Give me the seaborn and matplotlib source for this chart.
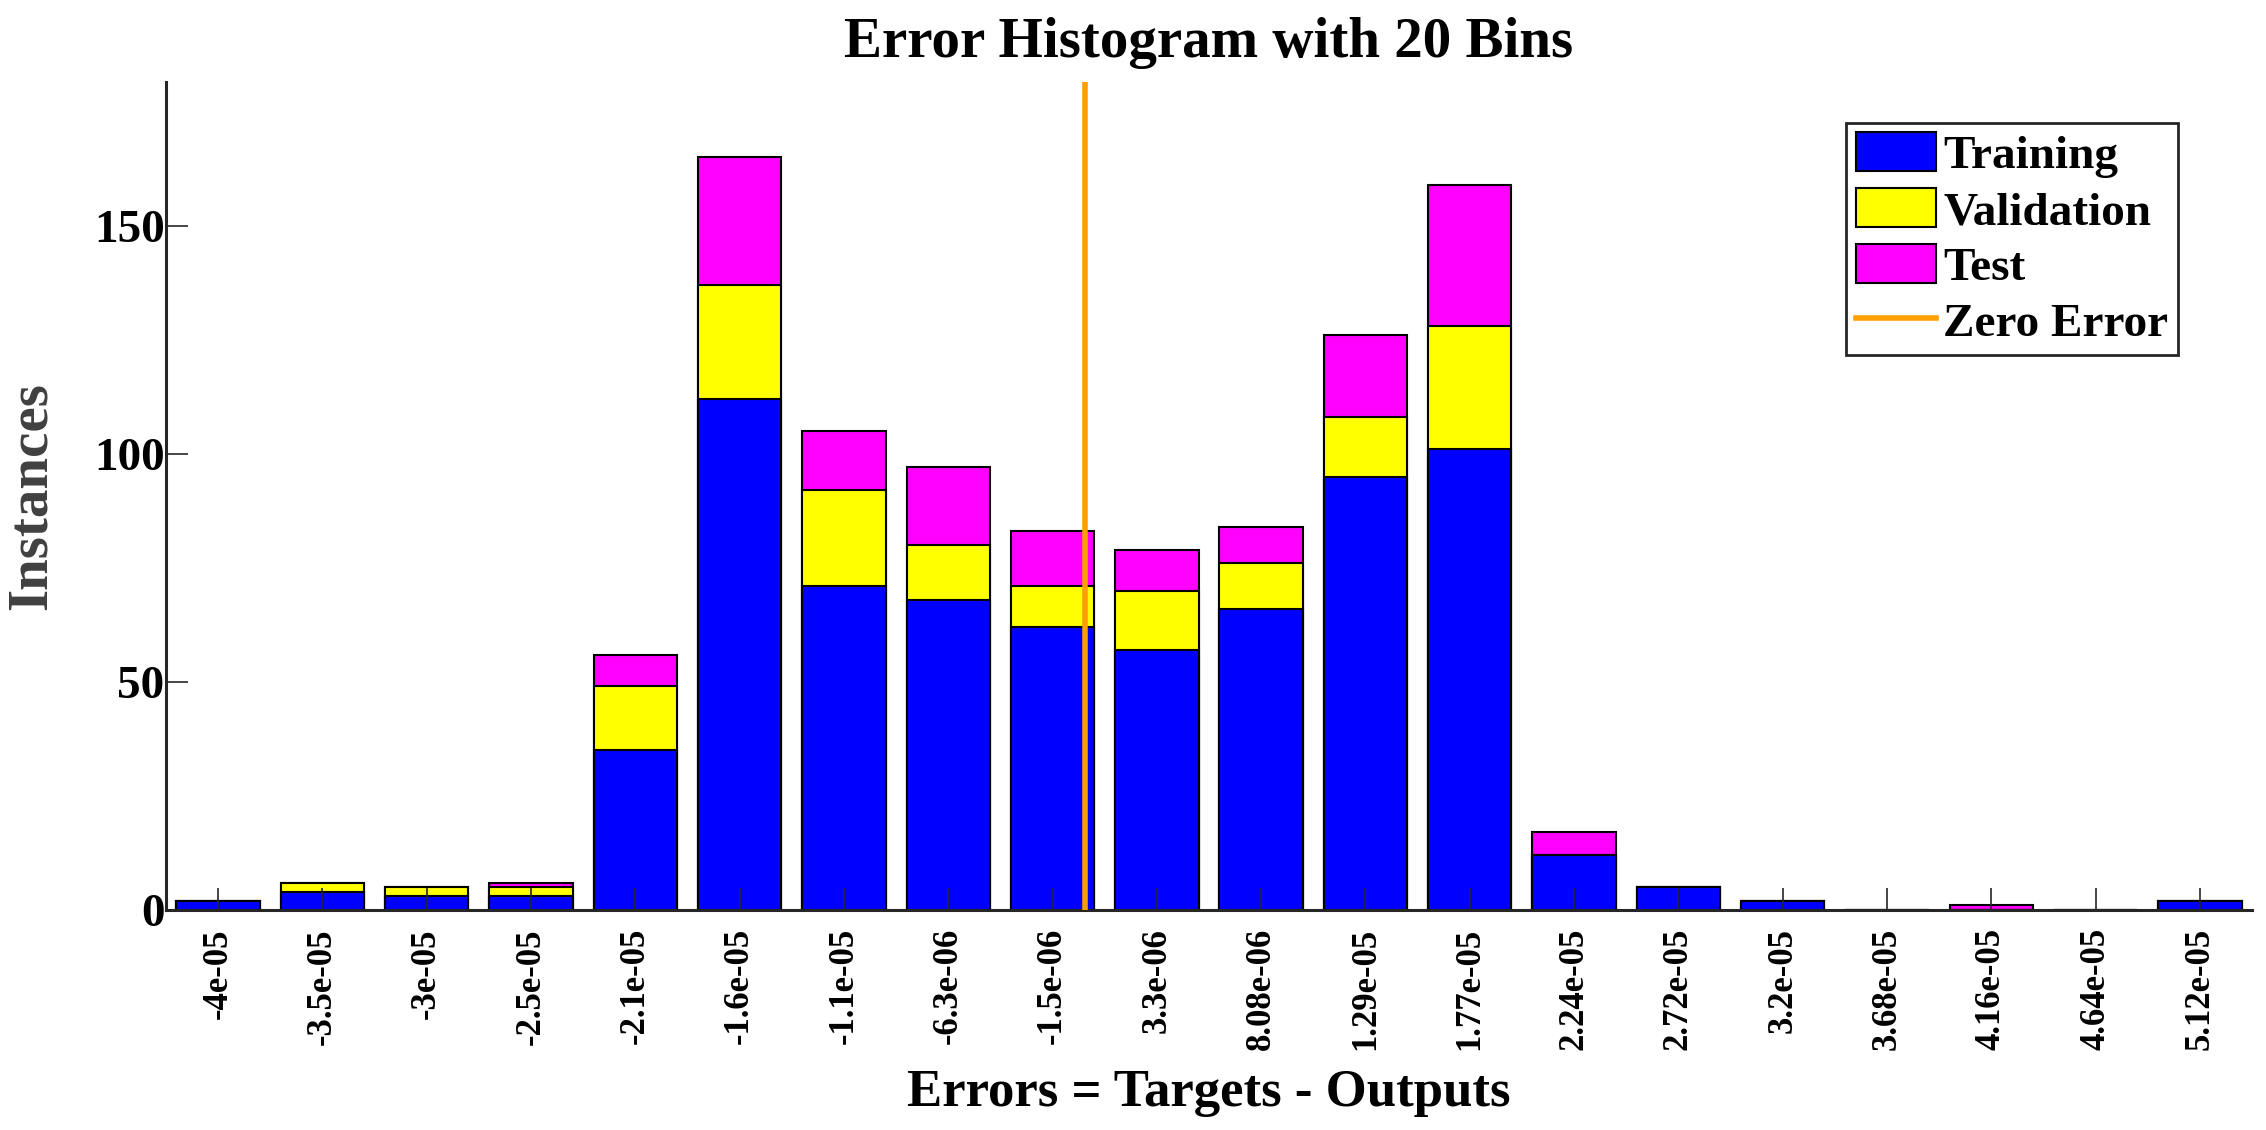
import matplotlib
matplotlib.use('Agg')
import matplotlib.pyplot as plt
from matplotlib.patches import Patch
from matplotlib.lines import Line2D
import seaborn as sns
import numpy as np
import pandas as pd

#%% data
bin_labels = ['-4e-05', '-3.5e-05', '-3e-05', '-2.5e-05', '-2.1e-05', '-1.6e-05',
              '-1.1e-05', '-6.3e-06', '-1.5e-06', '3.3e-06', '8.08e-06', '1.29e-05',
              '1.77e-05', '2.24e-05', '2.72e-05', '3.2e-05', '3.68e-05', '4.16e-05',
              '4.64e-05', '5.12e-05']
training = [2, 4, 3, 3, 35, 112, 71, 68, 62, 57, 66, 95, 101, 12, 5, 2, 0, 0, 0, 2]
validation = [0, 2, 2, 2, 14, 25, 21, 12, 9, 13, 10, 13, 27, 0, 0, 0, 0, 0, 0, 0]
test = [0, 0, 0, 1, 7, 28, 13, 17, 12, 9, 8, 18, 31, 5, 0, 0, 0, 1, 0, 0]
zero_error = 0.0

plt.rcParams['font.family'] = ['Liberation Serif', 'DejaVu Serif']
plt.rcParams['font.weight'] = 'bold'

df = pd.DataFrame({'bin': bin_labels, 'training': training,
                   'validation': validation, 'test': test})
#stacked heights
df['tv'] = df['training'] + df['validation']
df['total'] = df['tv'] + df['test']

fig = plt.figure(figsize=(22.66, 11.30), dpi=100)
ax = fig.add_axes([166/2266, 1-910/1130, (2252-166)/2266, (910-82)/1130])

#drawing from the top segment down so each layer covers the one above
for col, c in [('total', '#FF00FF'), ('tv', '#FFFF00'), ('training', '#0000FF')]:
    sns.barplot(data=df, x='bin', y=col, color=c, saturation=1, width=0.8,
                edgecolor='black', linewidth=1.5, ax=ax)

#zero error line, placed between the bin centres around zero
centres = np.array([float(s) for s in bin_labels])
zero_pos = np.interp(zero_error, centres, np.arange(len(centres)))
ax.axvline(zero_pos, color='#FF9F00', linewidth=4, zorder=3)

ax.set_xlim(-0.5, len(bin_labels) - 0.5)
ax.set_ylim(0, max(df['total']) * 1.1)
ax.set_yticks([0, 50, 100, 150])

for s in ['top', 'right']:
    ax.spines[s].set_visible(False)
for s in ['left', 'bottom']:
    ax.spines[s].set_color('#262626')
    ax.spines[s].set_linewidth(2.2)

ax.tick_params(axis='both', direction='in', length=16, width=1.2, color='#262626')
ax.tick_params(axis='x', labelsize=25, pad=13, labelrotation=90)
ax.tick_params(axis='y', labelsize=34, pad=1)
for t in ax.get_xticklabels() + ax.get_yticklabels():
    t.set_fontweight('bold')

ax.set_title('Error Histogram with 20 Bins', fontsize=41, fontweight='bold', pad=18)
ax.set_xlabel('Errors = Targets - Outputs', fontsize=38, fontweight='bold')
ax.xaxis.set_label_coords(0.5, -0.192)
ax.set_ylabel('Instances', fontsize=41, fontweight='bold', color='#404040')
ax.yaxis.set_label_coords(-0.052, 0.5)

handles = [Patch(facecolor='#0000FF', edgecolor='black', linewidth=1.5, label='Training'),
           Patch(facecolor='#FFFF00', edgecolor='black', linewidth=1.5, label='Validation'),
           Patch(facecolor='#FF00FF', edgecolor='black', linewidth=1.5, label='Test'),
           Line2D([0], [0], color='#FF9F00', linewidth=4, label='Zero Error')]
leg = ax.legend(handles=handles, loc='upper right', bbox_to_anchor=(2178/2266, 1-123/1130),
                bbox_transform=fig.transFigure, borderaxespad=0, fancybox=False,
                framealpha=1, edgecolor='#262626', prop={'size': 34, 'weight': 'bold'},
                handlelength=1.7, handleheight=0.88, handletextpad=0.16,
                labelspacing=0.22, borderpad=0.2)
leg.get_frame().set_linewidth(2)

fig.savefig('out.png', dpi=100)
